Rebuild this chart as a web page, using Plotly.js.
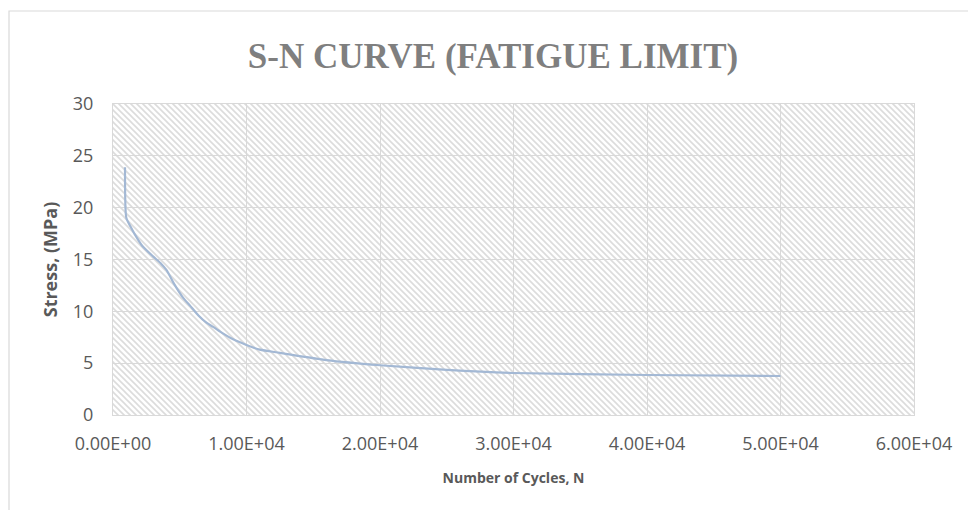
<!DOCTYPE html>
<html>
<head>
<meta charset="utf-8">
<script src="https://cdn.plot.ly/plotly-3.0.1.min.js"></script>
<style>
html,body{margin:0;padding:0;background:#fff;}
#chart{width:968px;height:510px;}
</style>
</head>
<body>
<div id="chart"></div>
<script>
// Data
var cycles = [900, 1000, 1300, 1600, 2200, 3000, 3600, 4000, 4600, 5200, 5800, 6400, 7000, 7500, 8200, 9000, 10000, 11000, 12500, 16000, 20000, 25000, 30000, 40000, 50000];
var stress = [23.9, 19.0, 18.2, 17.5, 16.3, 15.3, 14.6, 14.0, 12.6, 11.4, 10.5, 9.6, 8.9, 8.5, 7.9, 7.3, 6.75, 6.3, 6.0, 5.3, 4.8, 4.35, 4.05, 3.86, 3.76];

var xTickVals = [0, 10000, 20000, 30000, 40000, 50000, 60000];
var xTickText = ["0.00E+00", "1.00E+04", "2.00E+04", "3.00E+04", "4.00E+04", "5.00E+04", "6.00E+04"];
var yTickVals = [0, 5, 10, 15, 20, 25, 30];

var chartTitle = "S-N CURVE (FATIGUE LIMIT)";
var xTitle = "Number of Cycles, N";
var yTitle = "Stress, (MPa)";

// Layout geometry
var W = 968, H = 510;
var mL = 113, mR = 54, mT = 104, mB = 95;
var pw = W - mL - mR, ph = H - mT - mB;

// diagonal hatch background (downward diagonal)
var svg = '<svg xmlns="http://www.w3.org/2000/svg" width="' + pw + '" height="' + ph + '">' +
  '<defs><pattern id="p" width="6" height="6" patternUnits="userSpaceOnUse">' +
  '<rect width="6" height="6" fill="#ffffff"/>' +
  '<path d="M-1,-1 L7,7 M-4,2 L2,8 M4,-2 L10,4" stroke="#dcdcdc" stroke-width="1.6"/>' +
  '</pattern></defs><rect width="' + pw + '" height="' + ph + '" fill="url(#p)"/></svg>';
var bgSrc = 'data:image/svg+xml;base64,' + btoa(svg);

var trace = {
  x: cycles,
  y: stress,
  type: 'scatter',
  mode: 'lines',
  line: {color: '#a3b8d4', width: 2.2, shape: 'spline', smoothing: 0.6},
  hoverinfo: 'x+y',
  showlegend: false
};

var fontTick = {family: '"Open Sans", "Noto Sans", sans-serif', size: 18, color: '#595959'};

var layout = {
  width: W, height: H,
  margin: {l: mL, r: mR, t: mT, b: mB, pad: 0},
  paper_bgcolor: '#ffffff',
  plot_bgcolor: 'rgba(0,0,0,0)',
  title: {
    text: '<b>' + chartTitle + '</b>',
    font: {family: '"Liberation Serif", "DejaVu Serif", serif', size: 35, color: '#7f7f7f'},
    x: 493 / W, xref: 'container', xanchor: 'center',
    y: 1 - 56 / H, yref: 'container', yanchor: 'middle'
  },
  xaxis: {
    range: [0, 60000],
    tickvals: xTickVals,
    ticktext: xTickText,
    tickfont: fontTick,
    ticks: '',
    ticklabelstandoff: 12,
    showgrid: true,
    gridcolor: '#d9d9d9',
    gridwidth: 1,
    zeroline: false,
    showline: true,
    linecolor: '#d9d9d9',
    linewidth: 1,
    mirror: true,
    title: {text: '<b>' + xTitle + '</b>', font: {family: '"Open Sans", "Noto Sans", sans-serif', size: 14, color: '#595959'}, standoff: 19}
  },
  yaxis: {
    range: [0, 30],
    tickvals: yTickVals,
    tickfont: fontTick,
    ticks: '',
    ticklabelstandoff: 15,
    showgrid: true,
    gridcolor: '#d9d9d9',
    gridwidth: 1,
    zeroline: false,
    showline: true,
    linecolor: '#d9d9d9',
    linewidth: 1,
    mirror: true,
    title: {text: '<b>' + yTitle + '</b>', font: {family: '"Open Sans", "Noto Sans", sans-serif', size: 18, color: '#595959'}, standoff: 10}
  },
  images: [{
    source: bgSrc,
    xref: 'paper', yref: 'paper',
    x: 0, y: 1, sizex: 1, sizey: 1,
    xanchor: 'left', yanchor: 'top',
    sizing: 'stretch', layer: 'below'
  }],
  shapes: [{
    type: 'rect', xref: 'paper', yref: 'paper',
    x0: (9 - mL) / pw, x1: (W + 10 - mL) / pw,
    y0: (H - mB - (H + 10)) / ph, y1: (H - mB - 11) / ph,
    line: {color: '#d9d9d9', width: 1.2},
    fillcolor: 'rgba(0,0,0,0)',
    layer: 'below'
  }]
};

Plotly.newPlot('chart', [trace], layout, {displayModeBar: false, staticPlot: true});
</script>
</body>
</html>
